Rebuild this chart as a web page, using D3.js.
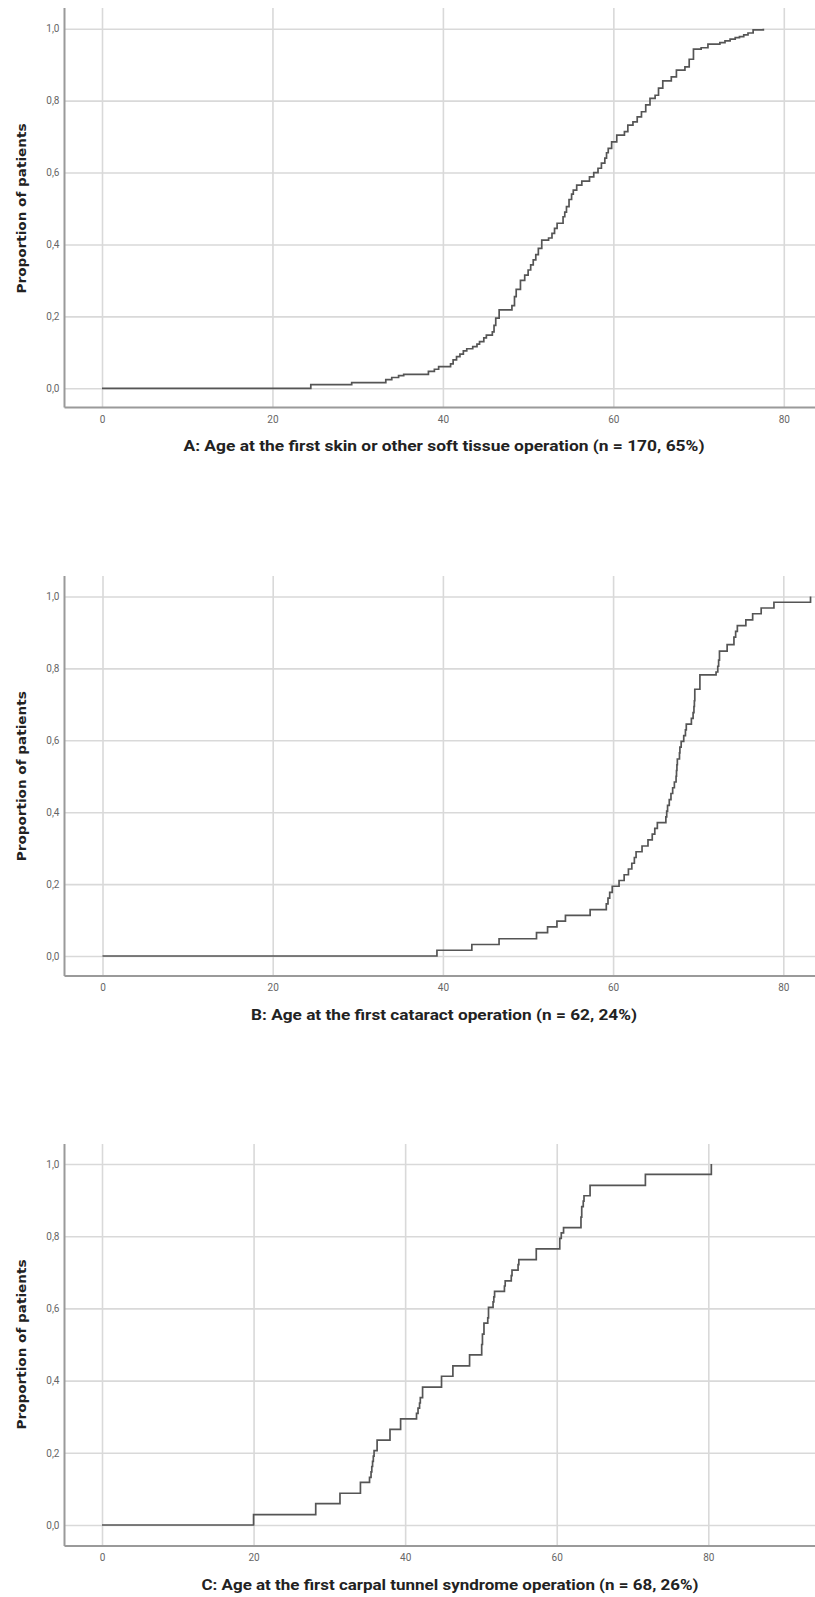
<!DOCTYPE html>
<html>
<head>
<meta charset="utf-8">
<script src="https://cdn.jsdelivr.net/npm/d3@7"></script>
<style>
  body { margin: 0; background: #fff; }
  .grid line { stroke: #d9d9d9; stroke-width: 1.6; }
  .tick text { font-family: Roboto, 'Liberation Sans', sans-serif; font-size: 10px; fill: #666; }
</style>
</head>
<body>
<div id="chart-area"></div>
<script>
// Cumulative proportion of patients by age at first operation
var ageA = [0, 24.5, 29.3, 33.3, 34.0, 34.8, 35.4, 38.3, 39.0, 39.5, 40.9, 41.2, 41.6, 42.0, 42.4, 42.8,
  43.5, 44.0, 44.3, 44.8, 45.1, 45.8, 46.0, 46.2, 46.6, 48.1, 48.4, 48.6, 49.1, 49.6, 50.0, 50.3, 50.6,
  50.9, 51.2, 51.6, 52.4, 52.8, 53.1, 53.4, 54.1, 54.3, 54.5, 54.8, 55.1, 55.3, 55.7, 56.3, 57.2, 57.7,
  58.2, 58.6, 59.0, 59.2, 59.4, 59.8, 60.4, 61.3, 61.7, 62.3, 62.8, 63.3, 63.8, 64.3, 64.9, 65.3, 65.8,
  66.8, 67.4, 68.4, 68.9, 69.4, 70.3, 71.1, 72.5, 73.1, 73.7, 74.3, 74.8, 75.3, 75.8, 76.4, 77.6]
var propA = [0, 0.010, 0.016, 0.024, 0.030, 0.035, 0.039, 0.047, 0.053, 0.060, 0.068, 0.079, 0.088, 0.095,
  0.104, 0.110, 0.116, 0.123, 0.130, 0.140, 0.148, 0.157, 0.175, 0.195, 0.218, 0.230, 0.255, 0.275, 0.300,
  0.315, 0.329, 0.343, 0.357, 0.372, 0.389, 0.412, 0.418, 0.431, 0.445, 0.459, 0.477, 0.490, 0.505, 0.525,
  0.540, 0.551, 0.565, 0.576, 0.588, 0.600, 0.612, 0.626, 0.640, 0.655, 0.667, 0.685, 0.704, 0.714, 0.732,
  0.741, 0.755, 0.769, 0.788, 0.806, 0.815, 0.835, 0.855, 0.866, 0.885, 0.894, 0.915, 0.943, 0.947, 0.957,
  0.961, 0.966, 0.971, 0.975, 0.978, 0.983, 0.988, 0.997, 1.0]

var ageB = [0, 39.3, 43.4, 46.6, 51.0, 52.3, 53.4, 54.4, 57.3, 59.2, 59.4, 59.6, 59.9, 60.7, 61.3, 61.8,
  62.2, 62.5, 62.7, 63.4, 64.1, 64.6, 64.9, 65.2, 66.2, 66.3, 66.4, 66.6, 66.8, 67.0, 67.2, 67.4, 67.45,
  67.5, 67.55, 67.8, 67.85, 68.0, 68.3, 68.5, 68.6, 69.2, 69.4, 69.5, 69.55, 69.6, 70.2, 72.1, 72.3, 72.4,
  72.5, 73.4, 74.2, 74.4, 74.6, 75.6, 76.4, 77.4, 78.9, 83.2]
var propB = [0, 0.016, 0.032, 0.048, 0.065, 0.081, 0.097, 0.113, 0.129, 0.145, 0.161, 0.177, 0.194, 0.210,
  0.226, 0.242, 0.258, 0.274, 0.290, 0.306, 0.323, 0.339, 0.355, 0.371, 0.387, 0.403, 0.419, 0.435, 0.452,
  0.468, 0.484, 0.500, 0.516, 0.532, 0.548, 0.565, 0.581, 0.597, 0.613, 0.629, 0.645, 0.661, 0.677, 0.694,
  0.710, 0.742, 0.782, 0.790, 0.806, 0.823, 0.848, 0.866, 0.887, 0.903, 0.919, 0.935, 0.952, 0.968, 0.984, 1.0]

var ageC = [0, 20.0, 28.2, 31.4, 34.1, 35.3, 35.5, 35.6, 35.7, 35.8, 35.9, 36.3, 38.0, 39.4, 41.5, 41.7,
  41.9, 42.0, 42.3, 44.8, 46.3, 48.5, 50.1, 50.2, 50.4, 50.9, 51.0, 51.6, 51.7, 51.8, 53.1, 53.2, 54.0,
  54.1, 54.9, 55.0, 57.3, 60.4, 60.6, 60.9, 63.2, 63.3, 63.5, 63.6, 64.4, 71.7, 80.4]
var propC = [0, 0.029, 0.059, 0.088, 0.118, 0.132, 0.147, 0.162, 0.176, 0.191, 0.206, 0.235, 0.265, 0.294,
  0.309, 0.324, 0.338, 0.353, 0.382, 0.412, 0.441, 0.471, 0.500, 0.529, 0.559, 0.574, 0.603, 0.618, 0.632,
  0.647, 0.662, 0.676, 0.691, 0.706, 0.721, 0.735, 0.765, 0.794, 0.809, 0.824, 0.853, 0.882, 0.897, 0.912,
  0.941, 0.971, 1.0]

var xTicks = [0, 20, 40, 60, 80]
var yTicks = [0, 0.2, 0.4, 0.6, 0.8, 1.0]

var titles = [
  'A: Age at the first skin or other soft tissue operation (n = 170, 65%)',
  'B: Age at the first cataract operation (n = 62, 24%)',
  'C: Age at the first carpal tunnel syndrome operation (n = 68, 26%)'
]
var yTitle = 'Proportion of patients'

var width = 815
var height = 1597

var svg = d3.select('#chart-area')
  .append('svg')
    .attr('width', width)
    .attr('height', height)

// panel layout (pixels)
var panels = [
  { ages: ageA, props: propA, title: titles[0], top: 8, bottom: 407.5, y0: 388.3, y1: 28.7,
    x0: 102, x80: 783.8, titleX: 444, titleW: 521 },
  { ages: ageB, props: propB, title: titles[1], top: 576, bottom: 976, y0: 956, y1: 596.5,
    x0: 102.5, x80: 783.3, titleX: 444, titleW: 386 },
  { ages: ageC, props: propC, title: titles[2], top: 1144, bottom: 1546, y0: 1525, y1: 1164,
    x0: 102, x80: 708.3, titleX: 450, titleW: 497 }
]

var left = 64.5

panels.forEach(drawPanel)

function drawPanel (p) {
  var g = svg.append('g')

  var x = d3.scaleLinear().domain([0, 80]).range([p.x0, p.x80])
  var y = d3.scaleLinear().domain([0, 1]).range([p.y0, p.y1])

  // vertical grid + x tick labels
  var xAxis = g.append('g')
    .attr('class', 'grid')
    .attr('transform', `translate(0, ${p.bottom})`)
    .call(d3.axisBottom(x).tickValues(xTicks).tickSize(-(p.bottom - p.top)).tickPadding(8).tickFormat(d3.format('d')))
  xAxis.select('.domain').remove()

  // horizontal grid + y tick labels
  var yAxis = g.append('g')
    .attr('class', 'grid')
    .attr('transform', `translate(${left}, 0)`)
    .call(d3.axisLeft(y).tickValues(yTicks).tickSize(-(width - left)).tickPadding(5)
      .tickFormat(d => d3.format('.1f')(d).replace('.', ',')))
  yAxis.select('.domain').remove()

  // axis lines
  g.append('line')
    .attr('x1', left).attr('x2', left)
    .attr('y1', p.top).attr('y2', p.bottom)
    .attr('stroke', '#9a9a9a').attr('stroke-width', 2)
  g.append('line')
    .attr('x1', left).attr('x2', width)
    .attr('y1', p.bottom).attr('y2', p.bottom)
    .attr('stroke', '#9a9a9a').attr('stroke-width', 2)

  // step curve
  var data = p.ages.map((a, i) => ({ age: a, p: p.props[i] }))
  var line = d3.line()
    .x(d => x(d.age))
    .y(d => y(d.p))
    .curve(d3.curveStepAfter)

  g.append('path')
    .datum(data)
    .attr('fill', 'none')
    .attr('stroke', '#555')
    .attr('stroke-width', 1.7)
    .attr('d', line)

  // y title
  g.append('text')
    .attr('transform', `translate(22, ${(p.y0 + p.y1) / 2}) rotate(-90)`)
    .attr('text-anchor', 'middle')
    .attr('dominant-baseline', 'middle')
    .attr('font-family', "'DejaVu Sans', sans-serif")
    .attr('font-weight', 'bold')
    .attr('font-size', '13px')
    .attr('fill', '#222')
    .attr('textLength', 170)
    .attr('lengthAdjust', 'spacingAndGlyphs')
    .text(yTitle)

  // x title
  g.append('text')
    .attr('x', p.titleX)
    .attr('y', p.bottom + 40)
    .attr('text-anchor', 'middle')
    .attr('dominant-baseline', 'middle')
    .attr('font-family', "Roboto, 'Liberation Sans', sans-serif")
    .attr('font-weight', 'bold')
    .attr('font-size', '15px')
    .attr('fill', '#222')
    .attr('textLength', p.titleW)
    .attr('lengthAdjust', 'spacingAndGlyphs')
    .text(p.title)
}
</script>
</body>
</html>
